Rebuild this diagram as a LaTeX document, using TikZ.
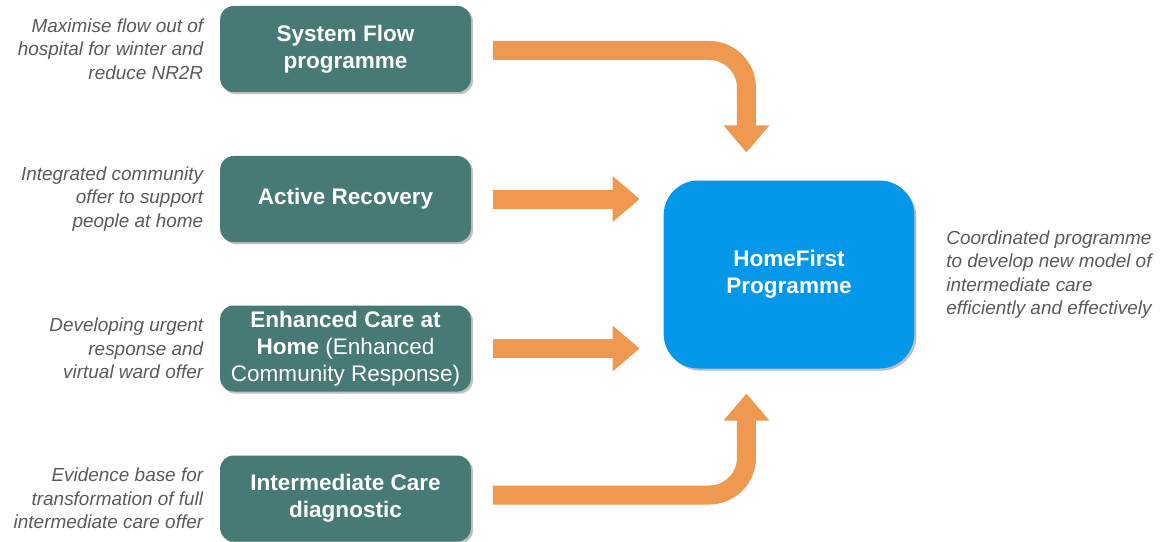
\documentclass[tikz,border=0pt]{standalone}
\usepackage{fontspec}
\setmainfont{Liberation Sans}
\usetikzlibrary{positioning,arrows.meta,shadows}
\definecolor{tealbox}{HTML}{487A75}
\definecolor{homeblue}{HTML}{0597E9}
\definecolor{floworange}{HTML}{EF984F}
\definecolor{notegray}{HTML}{5A5A5A}

\tikzset{
  prog/.style={fill=tealbox, rounded corners=10pt, minimum width=188pt, minimum height=64.5pt,
    inner sep=2pt, outer sep=0pt, text=white, align=center,
    font=\fontsize{16.9}{20.2}\selectfont\bfseries,
    drop shadow={shadow xshift=1.6pt, shadow yshift=-1.6pt, fill=black, opacity=0.25}},
  home/.style={prog, fill=homeblue, rounded corners=26pt, minimum width=188pt, minimum height=141pt},
  note/.style={inner sep=0pt, outer sep=0pt, text=notegray,
    font=\fontsize{14.2}{17.6}\selectfont\itshape},
  flow/.style={draw=floworange, line width=14.25pt, rounded corners=28pt,
    -{Triangle[width=33pt,length=20.25pt]}}
}

\begin{document}
\begin{tikzpicture}[x=0.75pt,y=-0.75pt]
    \useasboundingbox (0,0) rectangle (1165,542);

    % Nodes
    \node[prog] (system_flow) at (345.5,49) {System Flow\\programme};
    \node[prog] (active_recovery) at (345.5,199) {Active Recovery};
    \node[prog] (enhanced_care) at (345.5,348.5) {Enhanced Care at\\Home \textmd{(Enhanced}\\\textmd{Community Response)}};
    \node[prog] (ic_diagnostic) at (345.5,498.5) {Intermediate Care\\diagnostic};
    \node[home] (homefirst) at (789,274.5) {HomeFirst\\Programme};

    % Notes
    \node[note, align=right, left=12.75pt of system_flow] (note_flow) {Maximise flow out of\\hospital for winter and\\reduce NR2R};
    \node[note, align=right, left=12.75pt of active_recovery] (note_recovery) {Integrated community\\offer to support\\people at home};
    \node[note, align=right, left=12.75pt of enhanced_care] (note_care) {Developing urgent\\response and\\virtual ward offer};
    \node[note, align=right, left=12.75pt of ic_diagnostic] (note_diagnostic) {Evidence base for\\transformation of full\\intermediate care offer};
    \node[note, align=left, right=24pt of homefirst] (note_home) {Coordinated programme\\to develop new model of\\intermediate care\\efficiently and effectively};

    % Arrows
    \draw[flow] ([xshift=16.5pt, yshift=-1.1pt]system_flow.east) -| ([xshift=-31.9pt, yshift=21pt]homefirst.north);
    \draw[flow] ([xshift=16.5pt]active_recovery.east) -- ([xshift=-18pt]active_recovery.east -| homefirst.west);
    \draw[flow] ([xshift=16.5pt]enhanced_care.east) -- ([xshift=-18pt]enhanced_care.east -| homefirst.west);
    \draw[flow] ([xshift=16.5pt, yshift=2.6pt]ic_diagnostic.east) -| ([xshift=-31.9pt, yshift=-18.75pt]homefirst.south);
\end{tikzpicture}
\end{document}
